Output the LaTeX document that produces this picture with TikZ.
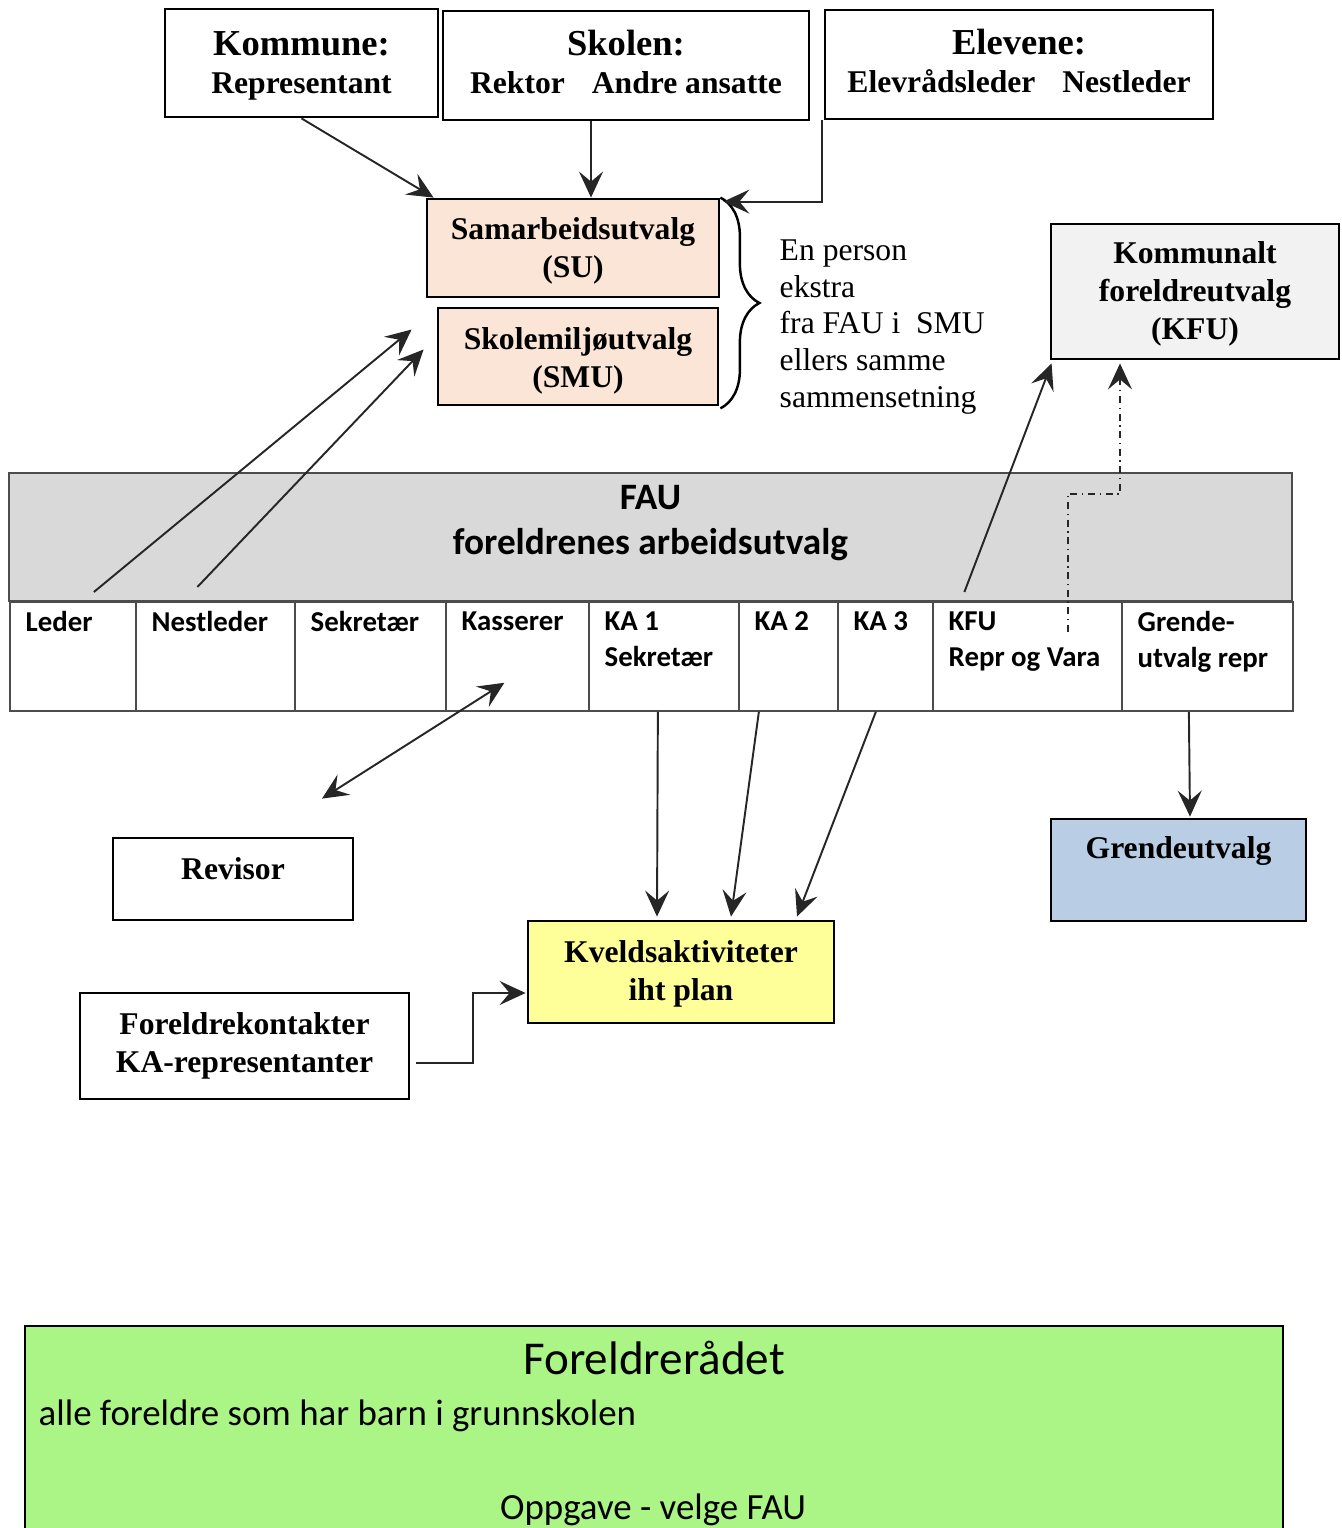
\documentclass[tikz,border=0pt]{standalone}
\usepackage{fontspec}
\setmainfont{Liberation Serif}
\newfontfamily\calibri{Carlito}
\usepackage{tikz}
\usetikzlibrary{arrows.meta}
\usetikzlibrary{calc}
\usetikzlibrary{positioning}
\usetikzlibrary{decorations.pathreplacing}

\definecolor{peach}{HTML}{FBE5D6}
\definecolor{kfugray}{HTML}{F2F2F2}
\definecolor{faugray}{HTML}{D9D9D9}
\definecolor{grendeblue}{HTML}{B9CDE5}
\definecolor{kveldyellow}{HTML}{FFFF99}
\definecolor{raadgreen}{RGB}{171,245,135}

\newcommand{\boxhead}[1]{{\fontsize{10.4}{11}\selectfont #1}}
\newcommand{\toplift}[1]{\rule{0pt}{#1}}

\begin{document}
\begin{tikzpicture}
	 [> = {Stealth[length=2.6mm,width=2.4mm,inset=1mm]},
	x=0.1mm, y=-0.1mm,
	every node/.style={inner sep=0pt},
	box/.style = {draw, line width=0.8pt, align=center, font=\fontsize{9}{10.8}\selectfont\bfseries},
	boxtext/.style = {align=center, font=\fontsize{9}{10.8}\selectfont\bfseries},
	cell/.style = {draw=black!70, line width=0.5pt, fill=white, anchor=north west, minimum height=10.9mm},
	celltext/.style = {anchor=north west, align=left, font=\calibri\bfseries\fontsize{8.2}{10.2}\selectfont},
	conn/.style = {->, line width=0.55pt, black!85},
	kfulink/.style = {->, line width=0.55pt, black!85, dash pattern=on 2pt off 1.3pt on 0.4pt off 1.3pt}
	]
	\useasboundingbox (0,0) rectangle (1342,1528);

	% representanter
	\node[box, minimum width=27.3mm, minimum height=10.8mm] (kommune) at (301.5,63) {\toplift{8.6pt}\boxhead{Kommune:}\\Representant};
	\node[box, minimum width=36.6mm, minimum height=10.9mm] (skolen) at (626,65.5) {\boxhead{Skolen:}\\Rektor\hspace{0.6em} Andre ansatte\vphantom{g}};
	\node[box, minimum width=38.8mm, minimum height=10.9mm] (elevene) at (1019,64.5) {\boxhead{Elevene:}\\Elevrådsleder\hspace{0.6em} Nestleder\vphantom{g}};

	\node[box, fill=peach, minimum width=29.2mm, minimum height=9.8mm] (su) at (573,248) {\toplift{7.8pt}Samarbeidsutvalg\\(SU)};
	\node[box, fill=peach, minimum width=28.0mm, minimum height=9.7mm] (smu) at (578,356.5) {\toplift{8.7pt}Skolemiljøutvalg\\(SMU)};
	\draw[decorate, decoration={brace, amplitude=3.9mm}, line width=0.7pt] (su.north east) -- ($(smu.south east)+(1,2)$);
	\node[anchor=west, align=left, font=\fontsize{9}{10.5}\selectfont] (note) at (779,327) {En person\\ekstra\\fra FAU i~~SMU\\ellers samme\\sammensetning};

	\node[box, fill=kfugray, minimum width=28.8mm, minimum height=13.5mm] (kfu) at (1195,291.5) {\toplift{7.8pt}Kommunalt\\foreldreutvalg\\(KFU)};

	% FAU
	\node[draw=black!70, line width=0.5pt, fill=faugray, minimum width=128.3mm, minimum height=12.8mm] (fau) at (650.5,537) {};
	\node[align=center, font=\calibri\bfseries\fontsize{10.6}{12.8}\selectfont] (fautext) at (650.5,523) {FAU\\foreldrenes arbeidsutvalg};
	\foreach \nm/\xa/\w/\txt in {leder/9/12.6/Leder, nestleder/135/15.9/Nestleder, sekretaer/294/15.1/Sekretær, kasserer/445/14.3/Kasserer, ka1/588/15.0/{KA 1\\Sekretær}, ka2/738/9.9/KA 2, ka3/837/9.5/KA 3, kfurep/932/18.9/{KFU\\Repr og Vara}, grrep/1121/17.1/{Grende-\\utvalg repr}}
	{
		\node[cell, minimum width=\w mm] (\nm) at (\xa,601) {};
		\node[celltext] (\nm text) at ($(\nm.north west)+(16,10)$) {\txt};
	}

	% utvalg under FAU
	\node[box, minimum width=24mm, minimum height=8.2mm] (revisor) at (233,879) {};
	\node[boxtext] (revisortext) at (233,869) {Revisor};
	\node[box, fill=grendeblue, minimum width=25.5mm, minimum height=10.2mm] (grende) at (1178.5,870) {};
	\node[boxtext] (grendetext) at (1178.5,851) {Grendeutvalg};
	\node[box, fill=kveldyellow, minimum width=30.6mm, minimum height=10.2mm] (kveld) at (681,972) {\toplift{7.2pt}Kveldsaktiviteter\\iht plan};
	\node[box, minimum width=32.9mm, minimum height=10.6mm] (kontakt) at (244.5,1046) {Foreldrekontakter\\KA-representanter};

	% piler
	\draw[conn] (kommune.south) -- ($(su.north west)+(8,0)$);
	\coordinate (skolenout) at ($(skolen.south)+(-35,0)$);
	\draw[conn] (skolenout) -- (skolenout |- su.north);
	\draw[conn] ($(elevene.south west)+(-2,0)$) |- ($(su.north east)+(3,4)$);
	\draw[conn] ($(leder.north)+(21,-9)$) -- ($(smu.west)+(-25,-27)$);
	\draw[conn] ($(nestleder.north)+(-18,-14)$) -- ($(smu.west)+(-13,-7)$);
	\draw[conn] ($(kfurep.north)+(-63,-9)$) -- ($(kfu.south west)+(2,3)$);
	\draw[kfulink] ($(kfurep.north)+(40.5,31)$) -- ++(0,-138) -| ($(kfu.south)+(-75,3)$);
	\draw[conn, <->] ($(revisor.north)+(89,-38)$) -- ($(kasserer.south)+(-13,-29)$);
	\draw[conn] ($(ka1.south)+(-6,0)$) -- ($(kveld.north)+(-24,-3)$);
	\draw[conn] ($(ka2.south)+(-29.5,0)$) -- ($(kveld.north)+(50,-3)$);
	\draw[conn] ($(ka3.south)+(-9.5,0)$) -- ($(kveld.north)+(116,-3)$);
	\draw[conn] ($(grrep.south)+(-18.5,0)$) -- ($(grende.north)+(11.5,-1)$);
	\draw[conn] ($(kontakt.east)+(6,17)$) -- ++(57,0) |- ($(kveld.west)+(-1,21)$);

	% foreldreraadet
	\draw[fill=raadgreen, line width=0.8pt] (25,1326) rectangle (1283,1620);
	\node[font=\calibri\fontsize{13.4}{16}\selectfont] (raadet) at (654,1358) {Foreldrerådet};
	\node[anchor=west, font=\calibri\fontsize{10.5}{12}\selectfont] (raadalle) at (38,1416) {alle foreldre som har barn i grunnskolen};
	\node[font=\calibri\fontsize{10.5}{12}\selectfont] (raadoppg) at (653,1510) {Oppgave - velge FAU};
\end{tikzpicture}
\end{document}
